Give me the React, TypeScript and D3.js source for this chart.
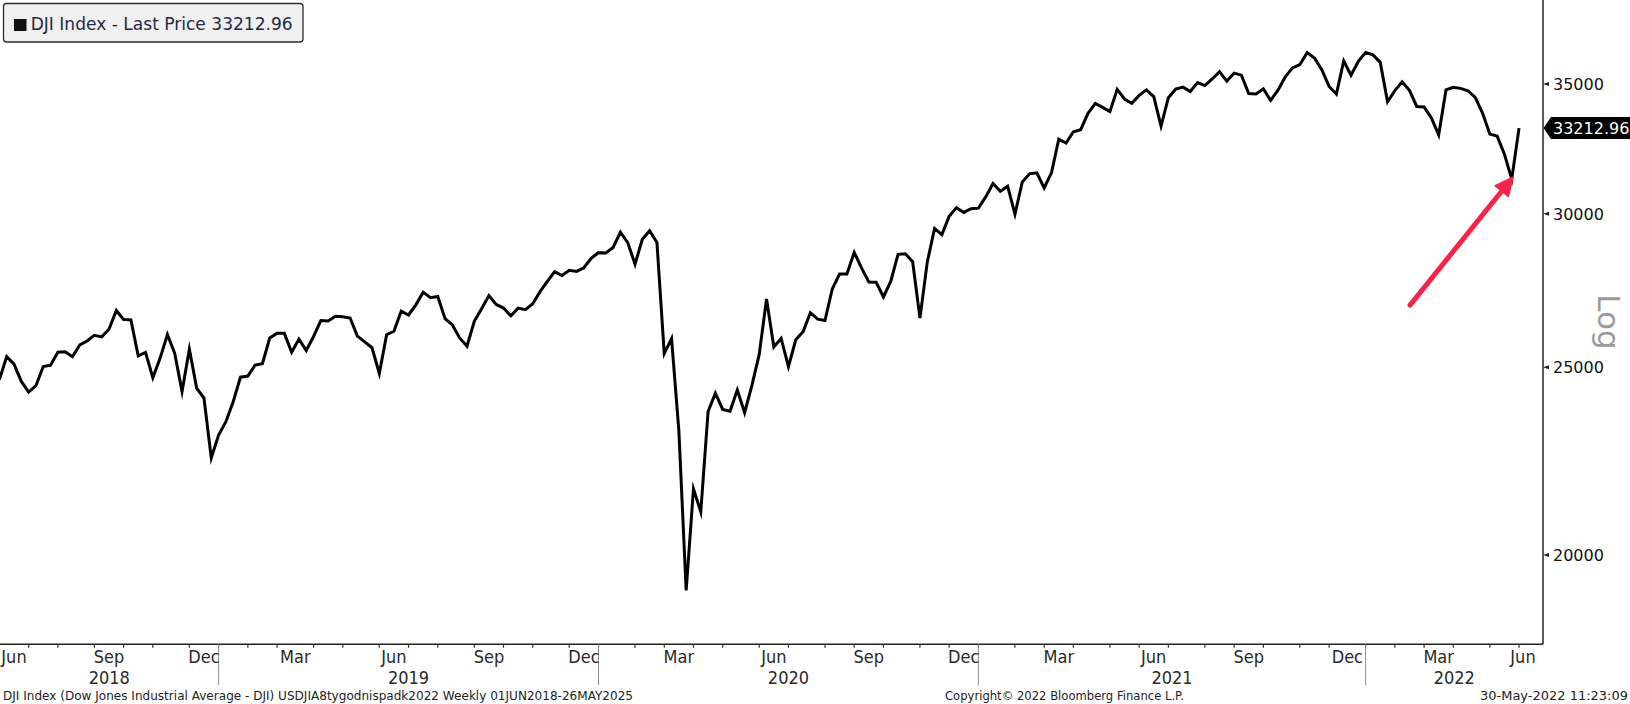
import React from "react";
import * as d3 from "d3";

// ---- data: DJI weekly closes (Fridays), starting 01-Jun-2018 ----
const START_DATE = "2018-06-01";
const close2018 = [24635, 25317, 25090, 24581, 24271, 24456, 25019, 25058, 25451, 25463, 25313, 25669, 25790, 25965, 25917, 26155, 26744, 26458, 26447, 25340, 25444, 24688, 25271, 25989, 25413, 24286, 25538, 24389, 24101, 22445, 23062];
const close2019 = [23433, 23996, 24706, 24737, 25064, 25106, 25883, 26031, 26026, 25450, 25849, 25502, 25929, 26425, 26412, 26559, 26543, 26505, 25942, 25764, 25585, 24815, 25984, 26090, 26719, 26600, 26922, 27332, 27154, 27192, 26485, 26287, 25886, 25629, 26403, 26797, 27220, 26935, 26820, 26573, 26817, 26770, 26958, 27347, 27681, 28005, 27876, 28051, 28015, 28135, 28455, 28645];
const close2020 = [28634, 28823, 29348, 28990, 28256, 29103, 29398, 28992, 25409, 25865, 23186, 19174, 21637, 21053, 23719, 24242, 23775, 23724, 24331, 23685, 24465, 25383, 27111, 25606, 25871, 25016, 25827, 26075, 26672, 26470, 26428, 27433, 27931, 27930, 28654, 28133, 27666, 27657, 27174, 27683, 28587, 28606, 28336, 26502, 28323, 29480, 29263, 29910, 30218, 30046, 30179, 30200, 30606];
const close2021 = [31098, 30814, 30997, 29983, 31148, 31458, 31494, 30932, 31496, 32779, 32628, 33072, 33153, 33801, 34200, 34043, 33875, 34778, 34382, 34208, 34529, 34756, 34480, 33290, 34433, 34786, 34870, 34688, 35062, 34935, 35209, 35515, 35120, 35456, 35369, 34608, 34585, 34798, 34326, 34746, 35295, 35677, 35820, 36328, 36100, 35602, 34899, 34580, 35971, 35365, 35951, 36338];
const close2022 = [36231, 35912, 34265, 34725, 35089, 34738, 34079, 34059, 33615, 32944, 34755, 34862, 34818, 34721, 34451, 33811, 32977, 32899, 32197, 31262, 33212.96];

const yTicks = [20000, 25000, 30000, 35000];
const labelledMonths = ["Mar", "Jun", "Sep", "Dec"];
const yDomain = [17987, 38673];
const lastPrice = 33212.96;
const legendText = "DJI Index - Last Price 33212.96";
const footerLeft = "DJI Index (Dow Jones Industrial Average - DJI) USDJIA8tygodnispadk2022  Weekly 01JUN2018-26MAY2025";
const footerMid = "Copyright\u00A9 2022 Bloomberg Finance L.P.";
const footerRight = "30-May-2022 11:23:09";

const W = 1630;
const H = 704;
const PLOT_R = 1543;
const AXIS_Y = 644.3;
const X0 = -0.6;
const X_LAST = 1519.05;
const FONT = "'DejaVu Sans', Verdana, sans-serif";

export default function App() {
  const values = [...close2018, ...close2019, ...close2020, ...close2021, ...close2022];
  const start = new Date(START_DATE + "T00:00:00Z");
  const data = values.map((v, i) => ({ date: d3.utcDay.offset(start, 7 * i), value: v }));

  const x = d3.scaleUtc().domain([data[0].date, data[data.length - 1].date]).range([X0, X_LAST]);
  const y = d3.scaleLog().domain(yDomain).range([AXIS_Y, 0]);
  const step = x(data[1].date) - x(data[0].date);

  const line = d3
    .line<{ date: Date; value: number }>()
    .x((d) => x(d.date))
    .y((d) => y(d.value));

  // month ends (tick at last weekly point in each month)
  const groups = d3.groups(data, (d) => d.date.getUTCFullYear() * 12 + d.date.getUTCMonth());
  const monthEnds: { k: number; x: number; virtual: boolean }[] = groups.map(([k, arr]) => ({
    k,
    x: x(arr[arr.length - 1].date),
    virtual: false,
  }));
  monthEnds.push({ k: monthEnds[monthEnds.length - 1].k + 1, x: PLOT_R, virtual: true });

  const fmtMonth = d3.utcFormat("%b");
  const monthLabels = monthEnds
    .map((m, i) => {
      const left = i > 0 ? monthEnds[i - 1].x : x(data[0].date) - step;
      const c = (left + m.x) / 2;
      const date = new Date(Date.UTC(Math.floor(m.k / 12), m.k % 12, 1));
      return { text: fmtMonth(date), cx: Math.max(14, Math.min(PLOT_R - 20, c)) };
    })
    .filter((l) => labelledMonths.includes(l.text));

  const years = Array.from(new Set(monthEnds.map((m) => Math.floor(m.k / 12))));
  const decEnd = (yr: number) => {
    const m = monthEnds.find((e) => e.k === yr * 12 + 11 && !e.virtual);
    return m ? m.x : PLOT_R;
  };
  const separators = years.filter((yr) => monthEnds.some((e) => e.k === yr * 12 + 11 && !e.virtual)).map(decEnd);
  const yearLabels = years.map((yr, i) => {
    const left = i === 0 ? 0 : decEnd(years[i - 1]);
    const right = decEnd(yr);
    return { text: String(yr), cx: (left + right) / 2 };
  });

  // arrow anchored to the recent low
  const recent = data.slice(-4);
  const low = recent.reduce((a, b) => (b.value < a.value ? b : a));
  const tipX = x(low.date) + 1.3;
  const tipY = y(low.value) - 2;
  const tailX = tipX - 103;
  const tailY = tipY + 128;
  const len = Math.hypot(tipX - tailX, tipY - tailY);
  const ux = (tipX - tailX) / len;
  const uy = (tipY - tailY) / len;
  const headL = 18;
  const headW = 8.5;
  const bx = tipX - headL * ux;
  const by = tipY - headL * uy;
  const head = `${tipX},${tipY} ${bx + headW * -uy},${by + headW * ux} ${bx - headW * -uy},${by - headW * ux}`;

  const ly = y(lastPrice);

  return (
    <svg
      width={W}
      height={H}
      viewBox={`0 0 ${W} ${H}`}
      style={{ position: "absolute", left: 0, top: 0, background: "#fff" }}
    >
      <defs>
        <clipPath id="plotClip">
          <rect x={0} y={0} width={PLOT_R} height={AXIS_Y} />
        </clipPath>
      </defs>
      <rect x={0} y={0} width={W} height={H} fill="#fff" />

      {/* price line */}
      <path
        d={line(data) || ""}
        fill="none"
        stroke="#000"
        strokeWidth={3}
        strokeLinejoin="miter"
        strokeMiterlimit={6}
        clipPath="url(#plotClip)"
      />

      {/* red arrow */}
      <line x1={tailX} y1={tailY} x2={bx + ux * 2} y2={by + uy * 2} stroke="#fd2149" strokeWidth={5} strokeLinecap="round" />
      <polygon points={head} fill="#fd2149" stroke="#fd2149" strokeWidth={1.5} strokeLinejoin="round" />

      {/* axes */}
      <line x1={0} y1={AXIS_Y} x2={PLOT_R} y2={AXIS_Y} stroke="#222" strokeWidth={1.5} />
      <line x1={PLOT_R} y1={0} x2={PLOT_R} y2={AXIS_Y} stroke="#222" strokeWidth={1.5} />

      {/* x ticks */}
      {monthEnds
        .filter((m) => !m.virtual)
        .map((m, i) => (
          <line key={"t" + i} x1={m.x} y1={AXIS_Y} x2={m.x} y2={AXIS_Y + 3.5} stroke="#333" strokeWidth={1.2} />
        ))}
      {separators.map((sx, i) => (
        <line key={"s" + i} x1={sx} y1={AXIS_Y} x2={sx} y2={685} stroke="#8c8c8c" strokeWidth={1} />
      ))}
      {monthLabels.map((l, i) => (
        <text
          key={"m" + i}
          x={l.cx}
          y={663}
          textAnchor="middle"
          fontFamily={FONT}
          fontSize={18}
          fill="#2a2a2a"
          style={{ fontStretch: "condensed" }}
        >
          {l.text}
        </text>
      ))}
      {yearLabels.map((l, i) => (
        <text
          key={"y" + i}
          x={l.cx}
          y={684}
          textAnchor="middle"
          fontFamily={FONT}
          fontSize={18}
          fill="#2a2a2a"
          style={{ fontStretch: "condensed" }}
        >
          {l.text}
        </text>
      ))}

      {/* y ticks */}
      {yTicks.map((t) => (
        <g key={t}>
          <polygon points={`${PLOT_R},${y(t)} ${PLOT_R + 6},${y(t) - 2} ${PLOT_R + 6},${y(t) + 2}`} fill="#222" />
          <text x={1553} y={y(t) + 6} fontFamily={FONT} fontSize={16} fill="#111">
            {d3.format("d")(t)}
          </text>
        </g>
      ))}

      {/* last price tag */}
      <polygon
        points={`${PLOT_R + 0.5},${ly} ${PLOT_R + 8},${ly - 11} ${W},${ly - 11} ${W},${ly + 11} ${PLOT_R + 8},${ly + 11}`}
        fill="#000"
      />
      <text x={1553} y={ly + 6} fontFamily={FONT} fontSize={16} fill="#fff">
        {d3.format(".2f")(lastPrice)}
      </text>

      {/* Log label */}
      <text
        transform={`translate(1598, 322) rotate(90)`}
        textAnchor="middle"
        fontFamily={FONT}
        fontSize={31}
        fill="#9a9a9a"
      >
        Log
      </text>

      {/* legend */}
      <rect x={3.5} y={3.5} width={299.5} height={38.5} rx={3} fill="#f0f0f0" stroke="#2b2b2b" strokeWidth={1.3} />
      <rect x={14} y={19} width={12.5} height={12} fill="#111" />
      <text x={30.7} y={30} fontFamily={FONT} fontSize={17.5} fill="#1e2a48" textLength={262} lengthAdjust="spacingAndGlyphs">
        {legendText}
      </text>

      {/* footer */}
      <text x={3} y={700} fontFamily={FONT} fontSize={12.5} fill="#222" textLength={630} lengthAdjust="spacingAndGlyphs">
        {footerLeft}
      </text>
      <text x={945} y={700} fontFamily={FONT} fontSize={12.5} fill="#222" textLength={239} lengthAdjust="spacingAndGlyphs">
        {footerMid}
      </text>
      <text x={1480} y={700} fontFamily={FONT} fontSize={12.5} fill="#222" textLength={148} lengthAdjust="spacingAndGlyphs">
        {footerRight}
      </text>
    </svg>
  );
}
